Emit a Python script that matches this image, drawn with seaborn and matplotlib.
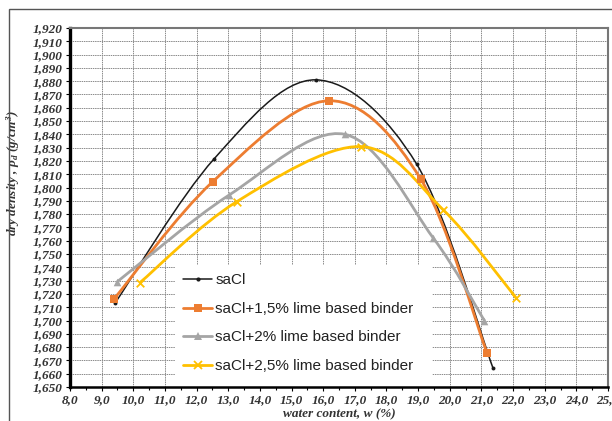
"""Proctor compaction curves: dry density vs water content."""

import matplotlib

matplotlib.use("Agg")
import matplotlib.pyplot as plt
import numpy as np
import pandas as pd
import seaborn as sns
from matplotlib.lines import Line2D
from matplotlib.patches import PathPatch, Rectangle
from matplotlib.path import Path
from matplotlib.ticker import FuncFormatter, MultipleLocator

series_names = [
    "saCl",
    "saCl+1,5% lime based binder",
    "saCl+2% lime based binder",
    "saCl+2,5% lime based binder",
]
water_saCl = [9.42, 12.55, 15.77, 18.95, 21.37]
density_saCl = [1.713, 1.8215, 1.881, 1.8178, 1.664]
water_15 = [9.40, 12.51, 16.19, 19.08, 21.18]
density_15 = [1.7165, 1.8044, 1.8653, 1.8065, 1.6754]
water_20 = [9.50, 13.03, 16.69, 19.48, 21.09]
density_20 = [1.7293, 1.7944, 1.840, 1.762, 1.700]
water_25 = [10.21, 13.27, 17.19, 19.80, 22.09]
density_25 = [1.7285, 1.7894, 1.8308, 1.7831, 1.7172]

colors = ["#1a1a1a", "#ED7D31", "#A5A5A5", "#FFC000"]
markers = ["o", "s", "^", "x"]
marker_sizes = [8, 30, 30, 30]
line_widths = [1.1, 2.0, 2.0, 2.0]

df = pd.concat(
    [
        pd.DataFrame({"w": w, "rho": r, "series": name})
        for w, r, name in zip(
            [water_saCl, water_15, water_20, water_25],
            [density_saCl, density_15, density_20, density_25],
            series_names,
        )
    ],
    ignore_index=True,
)


def smooth_path(x, y):
    # Excel-like smoothed line: Catmull-Rom converted to cubic Bezier segments
    pts = np.column_stack([x, y]).astype(float)
    ext = np.vstack([pts[0], pts, pts[-1]])
    verts = [pts[0]]
    codes = [Path.MOVETO]
    for i in range(1, len(ext) - 2):
        p0, p1, p2, p3 = ext[i - 1], ext[i], ext[i + 1], ext[i + 2]
        c1 = p1 + (p2 - p0) / 6.0
        c2 = p2 - (p3 - p1) / 6.0
        verts += [c1, c2, p2]
        codes += [Path.CURVE4] * 3
    return Path(verts, codes)


sns.set_theme(style="white")
plt.rcParams["font.family"] = ["Liberation Serif", "DejaVu Serif"]
plt.rcParams["mathtext.fontset"] = "custom"
plt.rcParams["mathtext.rm"] = "Liberation Serif:bold:italic"
plt.rcParams["mathtext.it"] = "Liberation Serif:bold:italic"

fig = plt.figure(figsize=(6.12, 4.21), dpi=100)
ax = fig.add_axes([70 / 612, 1 - 387 / 421, 538 / 612, 359 / 421])

fig.patches.append(
    Rectangle((9 / 612, -0.1), 1.2, 1 - 9 / 421 + 0.1, transform=fig.transFigure,
              fill=False, edgecolor="#555555", linewidth=1.0, zorder=0)
)

# white legend area reaching down to the x axis
ax.add_patch(Rectangle((0.195, 0.0), 0.478, 0.34, transform=ax.transAxes,
                       facecolor="white", edgecolor="none", zorder=2))

for name, color, lw in zip(series_names, colors, line_widths):
    sub = df[df["series"] == name]
    ax.add_patch(PathPatch(smooth_path(sub["w"], sub["rho"]), fill=False,
                           edgecolor=color, linewidth=lw, zorder=3))

for name, color, mk, ms in zip(series_names, colors, markers, marker_sizes):
    sub = df[df["series"] == name]
    sns.scatterplot(data=sub, x="w", y="rho", ax=ax, color=color, marker=mk,
                    s=ms, linewidth=1.3 if mk == "x" else 0, edgecolor=color,
                    legend=False, zorder=4)

ax.set_xlim(8.0, 25.0)
ax.set_ylim(1.650, 1.920)
ax.xaxis.set_major_locator(MultipleLocator(1.0))
ax.xaxis.set_minor_locator(MultipleLocator(0.5))
ax.yaxis.set_major_locator(MultipleLocator(0.01))
ax.xaxis.set_major_formatter(FuncFormatter(lambda v, _: f"{v:.1f}".replace(".", ",")))
ax.yaxis.set_major_formatter(FuncFormatter(lambda v, _: f"{v:.3f}".replace(".", ",")))

ax.grid(True, which="major", color="#8a8a8a", linestyle=(0, (1.5, 0.8)), linewidth=0.7)
ax.set_axisbelow(True)

ax.tick_params(axis="both", which="major", direction="out", length=3, width=0.8,
               color="black", labelsize=9.5, pad=2, bottom=True, left=True)
ax.tick_params(axis="x", which="minor", direction="out", length=2, width=0.8,
               color="black", bottom=True)
for lab in ax.get_xticklabels() + ax.get_yticklabels():
    lab.set_fontweight("bold")
    lab.set_fontstyle("italic")
    lab.set_color("#333333")

ax.spines["left"].set_color("black")
ax.spines["left"].set_linewidth(2.4)
ax.spines["bottom"].set_color("black")
ax.spines["bottom"].set_linewidth(1.8)
for side in ("top", "right"):
    ax.spines[side].set_color("#777777")
    ax.spines[side].set_linewidth(1.5)

ax.set_xlabel("water content, w (%)", fontsize=9.5, fontweight="bold",
              fontstyle="italic", color="#333333", labelpad=0)
ax.set_ylabel(r"dry density , ρ$_d$ (g/cm$^3$)", fontsize=9.5, fontweight="bold",
              fontstyle="italic", color="#333333")
ax.yaxis.set_label_coords(-0.09, 0.595)
ax.xaxis.set_label_coords(0.5, -0.06)

handles = [
    Line2D([0], [0], color=c, linewidth=lw, marker=m,
           markersize=3 if m == "o" else 6, markeredgewidth=1.3 if m == "x" else 0)
    for c, m, lw in zip(colors, markers, line_widths)
]
leg = ax.legend(handles, series_names, loc="upper left",
                bbox_to_anchor=(0.195, 0.0, 0.478, 0.34), mode="expand",
                borderaxespad=0, frameon=False, handlelength=1.9,
                handletextpad=0.2, labelspacing=0.95, borderpad=0.55,
                prop={"family": "Liberation Sans", "size": 11})
for t in leg.get_texts():
    t.set_color("#222222")
leg.set_zorder(5)

fig.savefig("out.png", dpi=100)
plt.close(fig)
